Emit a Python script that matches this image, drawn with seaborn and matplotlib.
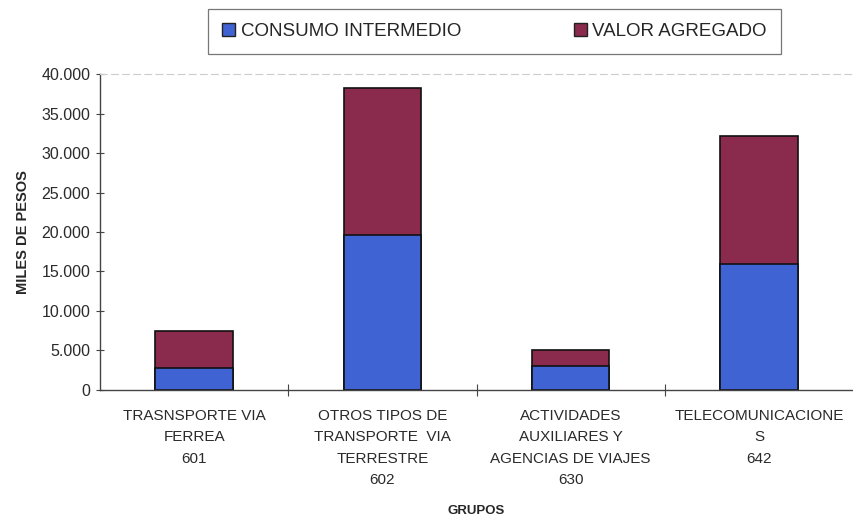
import numpy as np
import pandas as pd
import matplotlib
matplotlib.use('Agg')
from matplotlib import pyplot as plt
from matplotlib.patches import Patch
from matplotlib.ticker import FuncFormatter, FixedLocator
import seaborn as sns

# data (miles de pesos)
grupos = ['TRASNSPORTE VIA\nFERREA\n601',
          'OTROS TIPOS DE\nTRANSPORTE  VIA\nTERRESTRE\n602',
          'ACTIVIDADES\nAUXILIARES Y\nAGENCIAS DE VIAJES\n630',
          'TELECOMUNICACIONE\nS\n642']
consumo_intermedio = [2700, 19600, 3000, 15950]
valor_agregado = [4800, 18700, 2000, 16200]

sns.set_style('white')
plt.rcParams['font.family'] = ['Liberation Sans', 'DejaVu Sans']

df = pd.DataFrame({'grupo': grupos,
                   'ci': consumo_intermedio,
                   'va': valor_agregado})
df['total'] = df['ci'] + df['va']

blue = '#4063d4'
maroon = '#8a2a4d'

fig = plt.figure(figsize=(8.54, 5.19), dpi=100)
ax = fig.add_axes([0.117, 0.249, 0.882, 0.608])

# stacked: total first (valor agregado on top), then consumo intermedio over it
sns.barplot(data=df, x='grupo', y='total', color=maroon, width=0.41,
            edgecolor='#111111', linewidth=1.2, saturation=1, ax=ax)
sns.barplot(data=df, x='grupo', y='ci', color=blue, width=0.41,
            edgecolor='#111111', linewidth=1.2, saturation=1, ax=ax)

ax.set_xlim(-0.5, 3.5)
ax.set_ylim(0, 40000)
ax.set_yticks(np.arange(0, 40001, 5000))
ax.yaxis.set_major_formatter(FuncFormatter(lambda v, p: f'{int(v):,}'.replace(',', '.')))
ax.tick_params(axis='y', direction='inout', length=6, width=0.8, color='#444444',
               labelsize=11.5, labelcolor='#2a2a2a', left=True, pad=4)

ax.set_xticks(range(4))
ax.set_xticklabels(grupos, fontsize=11, color='#2a2a2a', linespacing=1.65)
ax.tick_params(axis='x', length=0, pad=14)
ax.xaxis.set_minor_locator(FixedLocator([0.5, 1.5, 2.5]))
ax.tick_params(axis='x', which='minor', direction='inout', length=8, width=0.8,
               color='#444444', bottom=True)

for s in ['left', 'bottom']:
    ax.spines[s].set_color('#444444')
    ax.spines[s].set_linewidth(1.0)
ax.spines['right'].set_visible(False)
ax.spines['top'].set_color('#cccccc')
ax.spines['top'].set_linestyle((0, (6, 4)))
ax.spines['top'].set_linewidth(0.8)

ax.set_ylabel('MILES DE PESOS', fontsize=10.5, fontweight='bold', labelpad=8)
ax.set_xlabel('GRUPOS', fontsize=9.5, fontweight='bold', labelpad=13)

handles = [Patch(facecolor=blue, edgecolor='#222222', label='CONSUMO INTERMEDIO'),
           Patch(facecolor=maroon, edgecolor='#222222', label='VALOR AGREGADO')]
leg = fig.legend(handles=handles, ncol=2, loc='center', bbox_to_anchor=(0.579, 0.939),
                 frameon=True, fancybox=False, edgecolor='#555555',
                 handlelength=0.7, handleheight=0.7, handletextpad=0.3,
                 columnspacing=6.0, borderpad=0.75, borderaxespad=0,
                 prop={'size': 13.5})
leg.get_frame().set_linewidth(0.9)

fig.savefig('out.png', dpi=100)
